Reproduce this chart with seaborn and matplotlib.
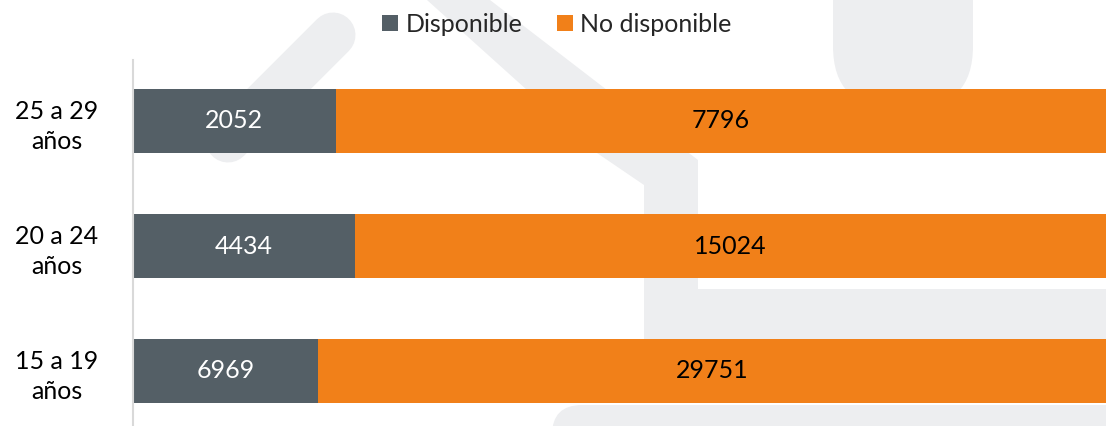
import numpy as np
import pandas as pd
import seaborn as sns

import matplotlib
matplotlib.use('Agg')
import matplotlib.pyplot as plt
from matplotlib.patches import Patch, Polygon, FancyBboxPatch

# data
GROUPS = ["25 a 29\naños", "20 a 24\naños", "15 a 19\naños"]
DISPONIBLE = [2052, 4434, 6969]
NO_DISPONIBLE = [7796, 15024, 29751]
SERIES = ["Disponible", "No disponible"]

DARK = "#545f66"
ORANGE = "#f18019"
WATERMARK = "#edeef0"

sns.set_theme(style="white")
plt.rcParams['font.family'] = ['Lato', 'DejaVu Sans']

df = pd.DataFrame({"grupo": GROUPS, "disp": DISPONIBLE, "no_disp": NO_DISPONIBLE})
df["total"] = df["disp"] + df["no_disp"]
df["pct_disp"] = df["disp"] / df["total"] * 100
df["pct_total"] = 100.0

W, H = 1106, 426
fig = plt.figure(figsize=(W / 100, H / 100), dpi=100)

# faint watermark in the background (pixel coordinates)
bg = fig.add_axes([0, 0, 1, 1], zorder=-1)
bg.set_xlim(0, W)
bg.set_ylim(H, 0)
bg.axis('off')
bg.plot([333, 228], [35, 140], color=WATERMARK, lw=32.4, solid_capstyle='round')
bg.add_patch(Polygon([(427, 0), (490, 0), (698, 160), (698, 289), (1106, 289),
                      (1106, 345), (644, 345), (644, 185), (597, 153)],
                     closed=True, facecolor=WATERMARK, edgecolor='none'))
bg.add_patch(FancyBboxPatch((833, -120), 140, 228, boxstyle="round,pad=0,rounding_size=62",
                            facecolor=WATERMARK, edgecolor='none'))
bg.add_patch(FancyBboxPatch((552, 405), 600, 80, boxstyle="round,pad=0,rounding_size=30",
                            facecolor=WATERMARK, edgecolor='none'))

ax = fig.add_axes([133 / W, 0, 973 / W, 366 / H], zorder=1)
ax.set_facecolor('none')

sns.barplot(data=df, y="grupo", x="pct_total", color=ORANGE, orient='h',
            width=0.512, saturation=1, linewidth=0, ax=ax)
sns.barplot(data=df, y="grupo", x="pct_disp", color=DARK, orient='h',
            width=0.512, saturation=1, linewidth=0, ax=ax)

for i, row in df.iterrows():
    ax.text(row["pct_disp"] / 2, i, str(row["disp"]), color="white",
            ha="center", va="center", fontsize=18)
    ax.text((row["pct_disp"] + 100) / 2, i, str(row["no_disp"]), color="black",
            ha="center", va="center", fontsize=18)

ax.set_xlim(0, 100)
ax.set_ylim(2.44, -0.488)
ax.set_xlabel("")
ax.set_ylabel("")
ax.set_xticks([])
for side in ["top", "right", "bottom"]:
    ax.spines[side].set_visible(False)
ax.spines["left"].set_color("#d9d9d9")
ax.spines["left"].set_linewidth(1.5)
ax.tick_params(axis='y', length=0, pad=54.7)
for lbl in ax.get_yticklabels():
    lbl.set_fontsize(18)
    lbl.set_horizontalalignment('center')
    lbl.set_multialignment('center')
    lbl.set_linespacing(1.35)
    lbl.set_color('black')

handles = [Patch(facecolor=DARK, edgecolor='none'), Patch(facecolor=ORANGE, edgecolor='none')]
ax.legend(handles, SERIES, loc="center", bbox_to_anchor=(557 / W, 1 - 24 / H),
          bbox_transform=fig.transFigure, ncol=2, frameon=False, fontsize=18,
          handlelength=0.62, handleheight=0.62, handletextpad=0.3, columnspacing=1.4,
          borderaxespad=0, borderpad=0)

fig.savefig("out.png", dpi=100)
